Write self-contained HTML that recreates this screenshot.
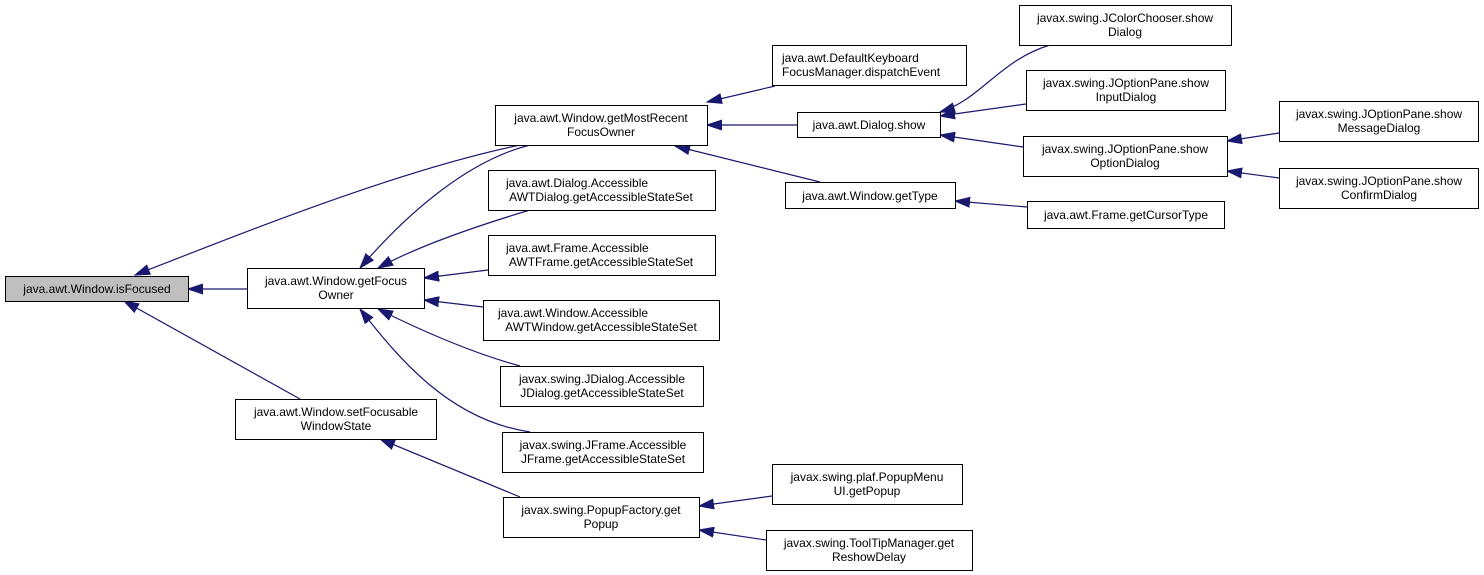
<!DOCTYPE html>
<html><head><meta charset="utf-8"><style>
body{margin:0;background:#fff;}
svg{display:block}
text{font-family:"Liberation Sans",Arial,sans-serif;font-size:12px;fill:#000;text-anchor:middle}
rect{fill:#fff;stroke:#000;stroke-width:1}
.e{stroke:#191970;stroke-width:1.2;fill:none;marker-start:url(#a)}
</style></head><body>
<svg width="1484" height="575" viewBox="0 0 1484 575">
<defs><marker id="a" markerWidth="16" markerHeight="12" refX="15" refY="5" orient="auto-start-reverse" markerUnits="userSpaceOnUse" viewBox="0 0 16 10"><path d="M0,0 L15,5 L0,10 z" fill="#191970" stroke="#191970"/></marker></defs>
<path class="e" d="M188,289 L247,289"/>
<path class="e" d="M135,275 C250,230 400,170 520,145"/>
<path class="e" d="M124,301 L300,399"/>
<path class="e" d="M360,268 C410,210 470,160 530,145"/>
<path class="e" d="M378,268 C420,245 480,225 530,210"/>
<path class="e" d="M424,278 L488,270"/>
<path class="e" d="M424,300 L483,307"/>
<path class="e" d="M378,309 C430,335 480,355 520,366"/>
<path class="e" d="M360,309 C400,360 450,420 530,432"/>
<path class="e" d="M380,439 L520,497"/>
<path class="e" d="M707,102 L775,86"/>
<path class="e" d="M707,125 L797,125"/>
<path class="e" d="M675,146 L820,182"/>
<path class="e" d="M940,112 C980,100 1000,60 1050,45"/>
<path class="e" d="M940,116 L1026,104"/>
<path class="e" d="M940,135 L1023,147"/>
<path class="e" d="M955,201 L1027,207"/>
<path class="e" d="M1227,141 L1279,133"/>
<path class="e" d="M1227,171 L1279,178"/>
<path class="e" d="M699,506 L772,496"/>
<path class="e" d="M699,530 L766,540"/>
<rect x="5.5" y="276.5" width="183" height="25" style="fill:#bfbfbf"/><text x="97" y="293">java.awt.Window.isFocused</text>
<rect x="247.5" y="268.5" width="177" height="40"/><text x="336" y="285">java.awt.Window.getFocus</text><text x="336" y="299">Owner</text>
<rect x="495.5" y="105.5" width="212" height="40"/><text x="601" y="122">java.awt.Window.getMostRecent</text><text x="601" y="136">FocusOwner</text>
<rect x="488.5" y="170.5" width="227" height="40"/><text x="506" y="187" style="text-anchor:start">java.awt.Dialog.Accessible</text><text x="601" y="201">AWTDialog.getAccessibleStateSet</text>
<rect x="488.5" y="235.5" width="227" height="40"/><text x="506" y="252" style="text-anchor:start">java.awt.Frame.Accessible</text><text x="601" y="266">AWTFrame.getAccessibleStateSet</text>
<rect x="483.5" y="300.5" width="236" height="40"/><text x="498" y="317" style="text-anchor:start">java.awt.Window.Accessible</text><text x="601" y="331">AWTWindow.getAccessibleStateSet</text>
<rect x="500.5" y="366.5" width="203" height="40"/><text x="602" y="383">javax.swing.JDialog.Accessible</text><text x="602" y="397">JDialog.getAccessibleStateSet</text>
<rect x="502.5" y="432.5" width="201" height="40"/><text x="603" y="449">javax.swing.JFrame.Accessible</text><text x="603" y="463">JFrame.getAccessibleStateSet</text>
<rect x="235.5" y="399.5" width="201" height="40"/><text x="336" y="416">java.awt.Window.setFocusable</text><text x="336" y="430">WindowState</text>
<rect x="503.5" y="497.5" width="196" height="40"/><text x="601" y="514">javax.swing.PopupFactory.get</text><text x="601" y="528">Popup</text>
<rect x="772.5" y="45.5" width="194" height="40"/><text x="782" y="62" style="text-anchor:start">java.awt.DefaultKeyboard</text><text x="782" y="76" style="text-anchor:start">FocusManager.dispatchEvent</text>
<rect x="797.5" y="112.5" width="143" height="25"/><text x="869" y="129">java.awt.Dialog.show</text>
<rect x="785.5" y="182.5" width="170" height="26"/><text x="870" y="200">java.awt.Window.getType</text>
<rect x="1019.5" y="5.5" width="212" height="40"/><text x="1125" y="22">javax.swing.JColorChooser.show</text><text x="1125" y="36">Dialog</text>
<rect x="1026.5" y="70.5" width="199" height="40"/><text x="1126" y="87">javax.swing.JOptionPane.show</text><text x="1126" y="101">InputDialog</text>
<rect x="1023.5" y="136.5" width="204" height="40"/><text x="1125" y="153">javax.swing.JOptionPane.show</text><text x="1125" y="167">OptionDialog</text>
<rect x="1027.5" y="201.5" width="197" height="27"/><text x="1126" y="219">java.awt.Frame.getCursorType</text>
<rect x="1279.5" y="101.5" width="199" height="40"/><text x="1379" y="118">javax.swing.JOptionPane.show</text><text x="1379" y="132">MessageDialog</text>
<rect x="1279.5" y="168.5" width="199" height="40"/><text x="1379" y="185">javax.swing.JOptionPane.show</text><text x="1379" y="199">ConfirmDialog</text>
<rect x="772.5" y="464.5" width="190" height="40"/><text x="867" y="481">javax.swing.plaf.PopupMenu</text><text x="867" y="495">UI.getPopup</text>
<rect x="766.5" y="530.5" width="206" height="40"/><text x="869" y="547">javax.swing.ToolTipManager.get</text><text x="869" y="561">ReshowDelay</text>
</svg>
</body></html>
